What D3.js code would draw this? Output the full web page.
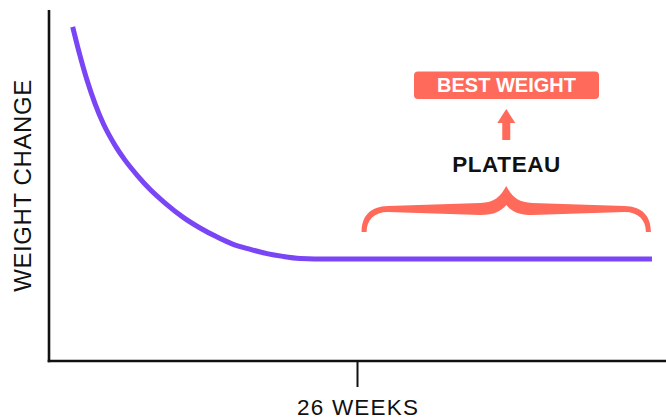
<!DOCTYPE html>
<html>
<head>
<meta charset="utf-8">
<script src="https://cdn.jsdelivr.net/npm/d3@7"></script>
<style>
  html, body { margin: 0; padding: 0; background: #ffffff; }
  svg { display: block; }
</style>
</head>
<body>
<svg id="chart" width="666" height="419"></svg>
<script>
// ---- data ----
const weeks  = [2.0, 2.6, 3.2, 3.9, 4.6, 5.6, 6.4, 7.5, 8.5, 9.8, 11.3, 12.75, 14.2, 15.5, 17.0, 18.4, 19.75, 21.2, 22.45, 50.9];
const weight = [95.2, 87.2, 80.1, 73.2, 67.5, 61.3, 57.3, 52.7, 49.0, 45.0, 41.0, 37.9, 35.3, 33.3, 31.8, 30.6, 29.8, 29.2, 29.06, 29.06];
const tickWeeks = [26];
const tickLabels = ["26 WEEKS"];
const yAxisTitle = "WEIGHT CHANGE";
const plateauRange = [26.6, 50.6];
const plateauLabel = "PLATEAU";
const bestLabel = "BEST WEIGHT";

const PURPLE = "#7945f5";
const CORAL = "#ff6a5b";
const FONT = "'Liberation Sans', Arial, Helvetica, sans-serif";

const svg = d3.select("#chart");
const x = d3.scaleLinear().domain([0, 52]).range([49, 665]);
const y = d3.scaleLinear().domain([0, 100]).range([361, 10]);

// axes
svg.append("line").attr("x1", x(0)).attr("x2", x(0)).attr("y1", y(100)).attr("y2", y(0) + 1.2)
  .attr("stroke", "#111").attr("stroke-width", 2.6);
svg.append("line").attr("x1", x(0) - 1.3).attr("x2", 666).attr("y1", y(0)).attr("y2", y(0))
  .attr("stroke", "#111").attr("stroke-width", 2.6);

const xAxis = d3.axisBottom(x).tickValues(tickWeeks).tickSize(26).tickPadding(12)
  .tickFormat((d, i) => tickLabels[i]);
const gx = svg.append("g").attr("transform", `translate(0,${y(0)})`).call(xAxis);
gx.select(".domain").remove();
gx.selectAll(".tick line").attr("stroke", "#111").attr("stroke-width", 2);
gx.selectAll(".tick text")
  .attr("fill", "#111")
  .attr("x", 0.6)
  .style("font-family", FONT)
  .style("font-size", "22.5px")
  .style("letter-spacing", "1.2px")
  .attr("dy", "0.71em");

// y title
svg.append("text")
  .attr("transform", `translate(31,${(80 + 291) / 2}) rotate(-90)`)
  .attr("text-anchor", "middle")
  .style("font-family", FONT)
  .style("font-size", "24px")
  .style("letter-spacing", "0.6px")
  .attr("fill", "#111")
  .text(yAxisTitle);

// curve
const pts = weeks.map((w, i) => [w, weight[i]]);
svg.append("path")
  .datum(pts)
  .attr("fill", "none")
  .attr("stroke", PURPLE)
  .attr("stroke-width", 5)
  .attr("d", d3.line().x(d => x(d[0])).y(d => y(d[1])).curve(d3.curveMonotoneX));

// brace
const lx = x(plateauRange[0]), rx = x(plateauRange[1]), cx = (lx + rx) / 2;
const yb = 232, ya = 206, yp = 186;
const p = d3.path();
p.moveTo(lx - 2.5, yb);
p.bezierCurveTo(lx - 2.5, 216, lx + 6, ya + 0.5, lx + 24, ya);
p.lineTo(cx - 26, ya - 3);
p.bezierCurveTo(cx - 12, ya - 3.5, cx - 6, 197, cx, yp);
p.bezierCurveTo(cx + 6, 197, cx + 12, ya - 3.5, cx + 26, ya - 3);
p.lineTo(rx - 24, ya);
p.bezierCurveTo(rx - 6, ya + 0.5, rx + 2.5, 216, rx + 2.5, yb);
p.lineTo(rx - 2.5, yb);
p.bezierCurveTo(rx - 2.5, 220, rx - 10, ya + 6, rx - 24, ya + 6);
p.lineTo(cx + 26, ya + 9);
p.bezierCurveTo(cx + 12, ya + 9, cx + 5, ya + 5, cx, ya - 1);
p.bezierCurveTo(cx - 5, ya + 5, cx - 12, ya + 9, cx - 26, ya + 9);
p.lineTo(lx + 24, ya + 6);
p.bezierCurveTo(lx + 10, ya + 6, lx + 2.5, 220, lx + 2.5, yb);
p.closePath();
svg.append("path").attr("d", p.toString()).attr("fill", CORAL);

// PLATEAU label
svg.append("text")
  .attr("x", cx + 0.3).attr("y", 171.7)
  .attr("text-anchor", "middle")
  .style("font-family", FONT)
  .style("font-size", "22.5px").style("font-weight", "bold")
  .style("letter-spacing", "0.6px")
  .attr("fill", "#111")
  .text(plateauLabel);

// arrow
svg.append("rect").attr("x", cx - 4).attr("y", 121).attr("width", 8).attr("height", 19).attr("fill", CORAL);
svg.append("path")
  .attr("d", `M${cx - 9},123 L${cx + 9},123 L${cx},109 Z`)
  .attr("fill", CORAL);

// best weight box
svg.append("rect").attr("x", 414).attr("y", 71.5).attr("width", 185).attr("height", 27.5)
  .attr("rx", 4).attr("fill", CORAL);
svg.append("text")
  .attr("x", (414 + 599) / 2).attr("y", 92.3)
  .attr("text-anchor", "middle")
  .style("font-family", FONT)
  .style("font-size", "20px").style("font-weight", "bold")
  .attr("fill", "#ffffff")
  .text(bestLabel);
</script>
</body>
</html>
